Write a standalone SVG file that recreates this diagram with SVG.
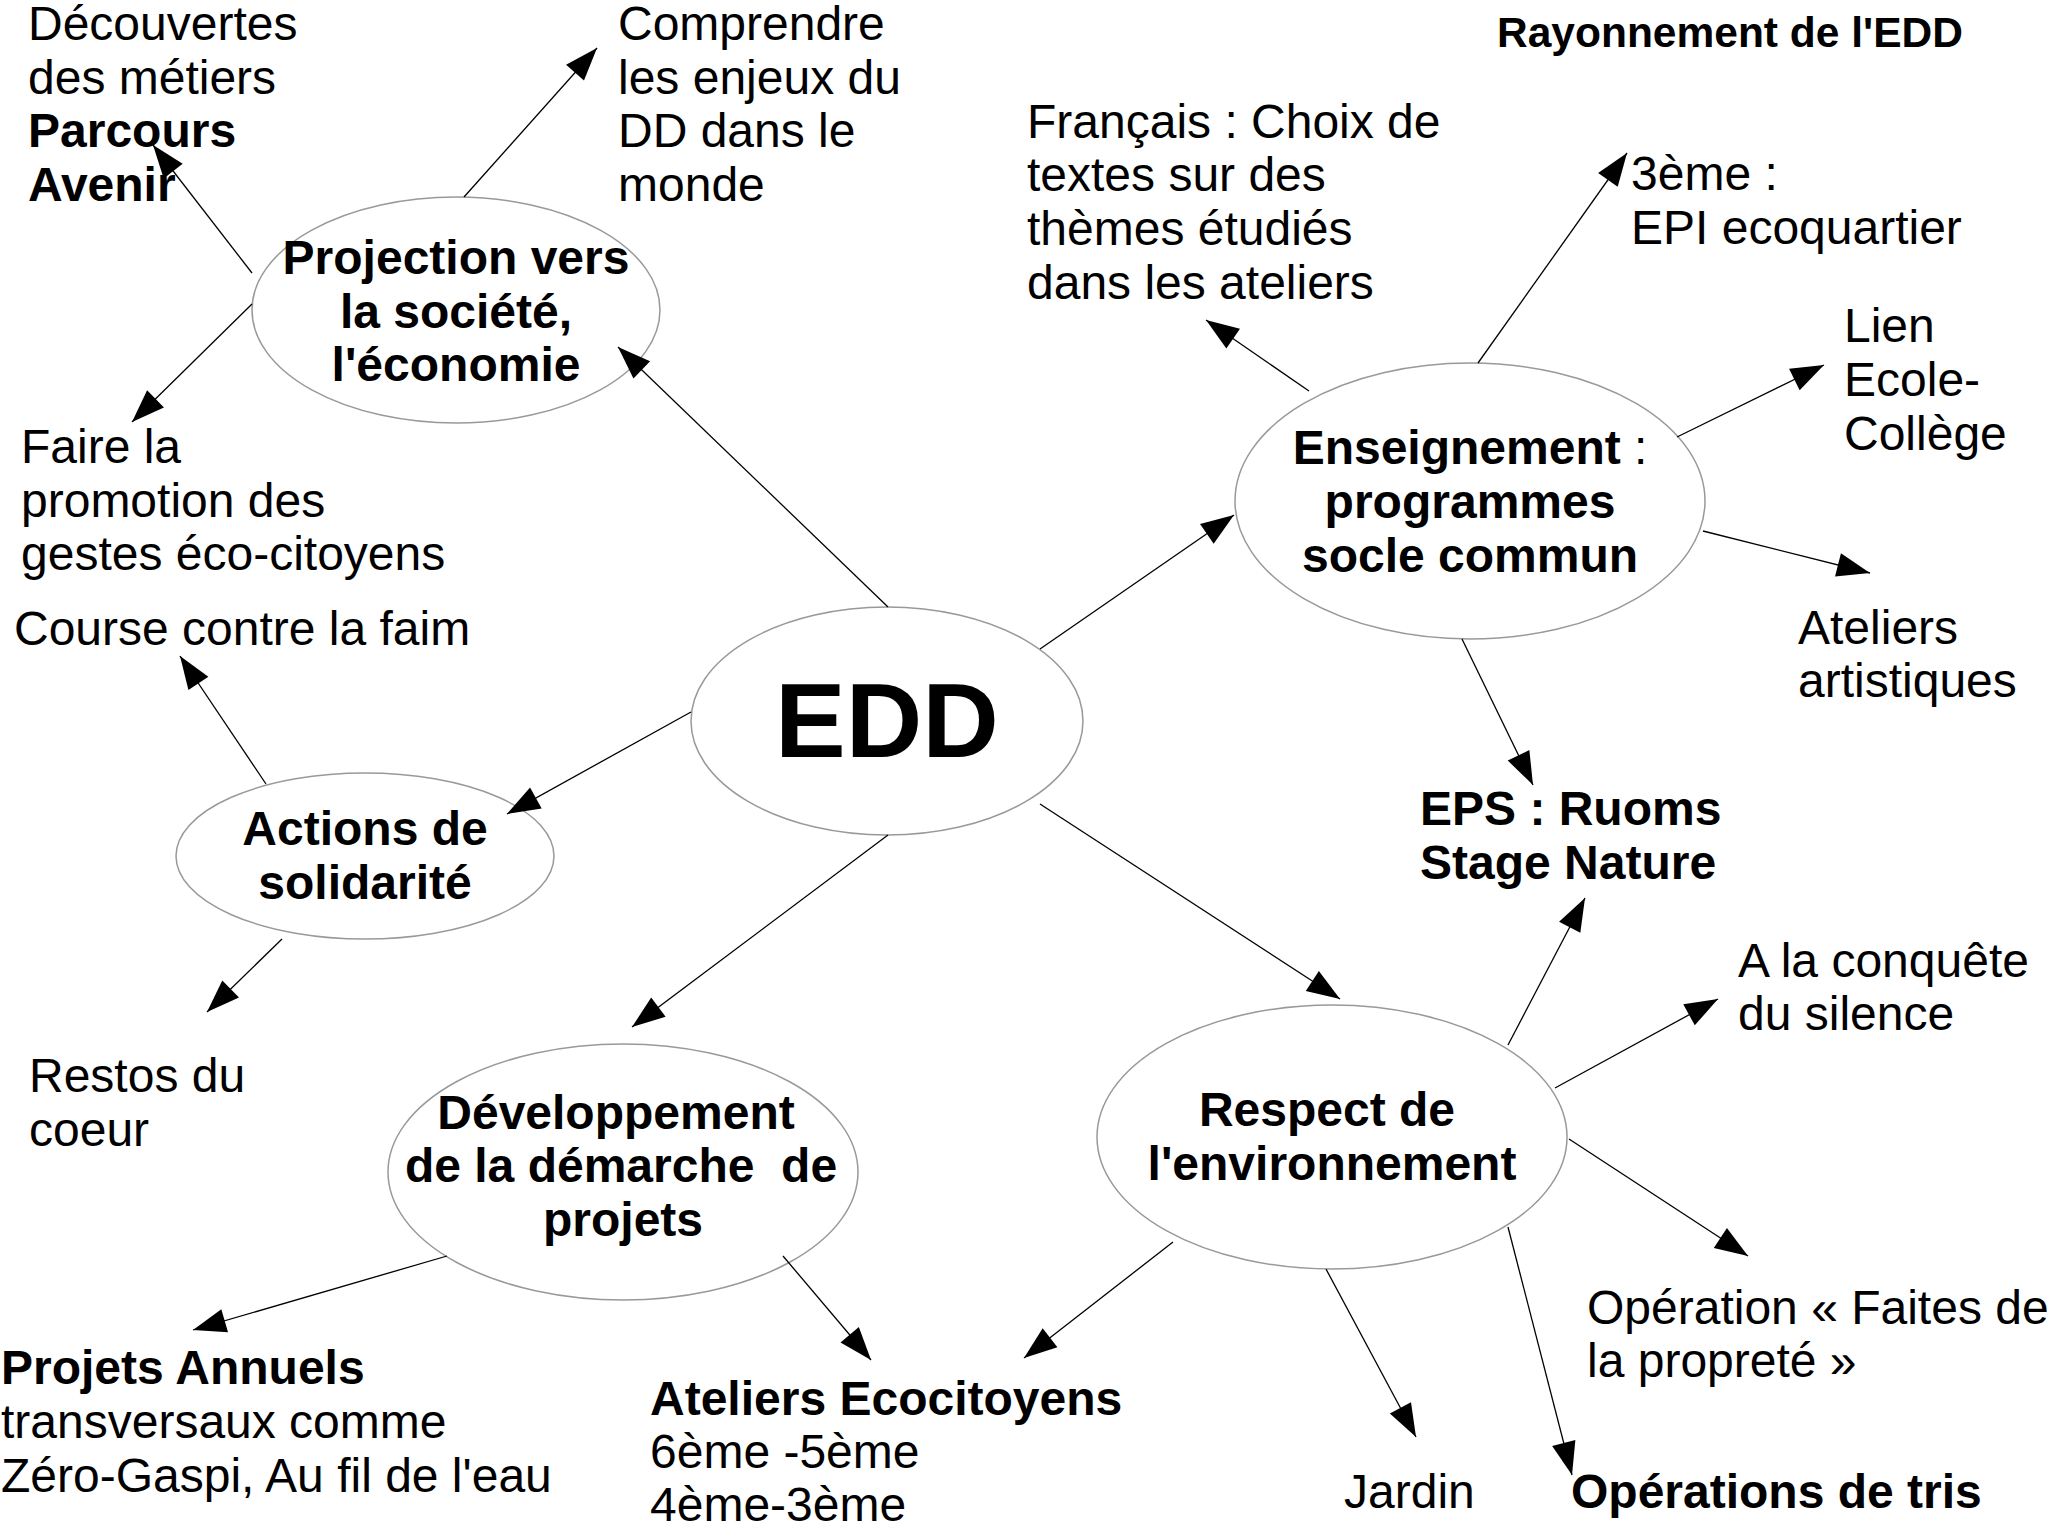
<svg xmlns="http://www.w3.org/2000/svg" width="2056" height="1526" viewBox="0 0 2056 1526">
<defs>
<marker id="arr" markerUnits="userSpaceOnUse" markerWidth="34" markerHeight="24" refX="33" refY="12" orient="auto" overflow="visible">
<path d="M0,0 L33,12 L0,24 Z" fill="#000"/>
</marker>
</defs>
<style>
.bg{fill:#fff}
.el{fill:none;stroke:#999;stroke-width:1.5}
.t{font-family:"Liberation Sans",Arial,sans-serif;font-size:48px;fill:#000}
.b{font-weight:bold}
.c{text-anchor:middle}
.edd{font-family:"Liberation Sans",Arial,sans-serif;font-size:106px;font-weight:bold;text-anchor:middle}
.ttl{font-family:"Liberation Sans",Arial,sans-serif;font-size:42.5px;font-weight:bold}
.ln{stroke:#000;stroke-width:1.3;fill:none;marker-end:url(#arr)}
</style>
<rect class="bg" x="0" y="0" width="2056" height="1526"/>

<g id="title"><text class="ttl" x="1497" y="47">Rayonnement de l'EDD</text></g>

<g id="edd">
<ellipse class="el" cx="887" cy="721" rx="196" ry="114"/>
<text class="edd" x="887" y="757">EDD</text>
</g>

<g id="projection">
<ellipse class="el" cx="456" cy="310" rx="204" ry="113"/>
<text class="t b c"><tspan x="456" y="274">Projection vers</tspan><tspan x="456" y="328">la société,</tspan><tspan x="456" y="381">l'économie</tspan></text>
</g>

<g id="enseignement">
<ellipse class="el" cx="1470" cy="501" rx="235" ry="138"/>
<text class="t c"><tspan x="1470" y="464"><tspan class="b">Enseignement</tspan> :</tspan><tspan class="b" x="1470" y="518">programmes</tspan><tspan class="b" x="1470" y="572">socle commun</tspan></text>
</g>

<g id="actions">
<ellipse class="el" cx="365" cy="856" rx="189" ry="83"/>
<text class="t b c"><tspan x="365" y="845">Actions de</tspan><tspan x="365" y="899">solidarité</tspan></text>
</g>

<g id="developpement">
<ellipse class="el" cx="623" cy="1172" rx="235" ry="128"/>
<text class="t b c" xml:space="preserve"><tspan x="616" y="1129">Développement</tspan><tspan x="621" y="1182">de la démarche  de</tspan><tspan x="623" y="1236">projets</tspan></text>
</g>

<g id="respect">
<ellipse class="el" cx="1332" cy="1137" rx="235" ry="132"/>
<text class="t b c"><tspan x="1327" y="1126">Respect de</tspan><tspan x="1332" y="1180">l'environnement</tspan></text>
</g>

<g id="decouvertes">
<text class="t"><tspan x="28" y="40">Découvertes</tspan><tspan x="28" y="94">des métiers</tspan><tspan class="b" x="28" y="147">Parcours</tspan><tspan class="b" x="28" y="201">Avenir</tspan></text>
</g>

<g id="comprendre">
<text class="t"><tspan x="618" y="40">Comprendre</tspan><tspan x="618" y="94">les enjeux du</tspan><tspan x="618" y="147">DD dans le</tspan><tspan x="618" y="201">monde</tspan></text>
</g>

<g id="faire">
<text class="t"><tspan x="21" y="463">Faire la</tspan><tspan x="21" y="517">promotion des</tspan><tspan x="21" y="570">gestes éco-citoyens</tspan></text>
</g>

<g id="course"><text class="t" x="14" y="645">Course contre la faim</text></g>

<g id="restos">
<text class="t"><tspan x="29" y="1092">Restos du</tspan><tspan x="29" y="1146">coeur</tspan></text>
</g>

<g id="francais">
<text class="t"><tspan x="1027" y="138">Français : Choix de</tspan><tspan x="1027" y="191">textes sur des</tspan><tspan x="1027" y="245">thèmes étudiés</tspan><tspan x="1027" y="299">dans les ateliers</tspan></text>
</g>

<g id="troisieme">
<text class="t"><tspan x="1631" y="190">3ème :</tspan><tspan x="1631" y="244">EPI ecoquartier</tspan></text>
</g>

<g id="lien">
<text class="t"><tspan x="1844" y="342">Lien</tspan><tspan x="1844" y="396">Ecole-</tspan><tspan x="1844" y="450">Collège</tspan></text>
</g>

<g id="artistiques">
<text class="t"><tspan x="1798" y="644">Ateliers</tspan><tspan x="1798" y="697">artistiques</tspan></text>
</g>

<g id="eps">
<text class="t b"><tspan x="1420" y="825">EPS : Ruoms</tspan><tspan x="1420" y="879">Stage Nature</tspan></text>
</g>

<g id="conquete">
<text class="t"><tspan x="1738" y="977">A la conquête</tspan><tspan x="1738" y="1030">du silence</tspan></text>
</g>

<g id="operation">
<text class="t"><tspan x="1587" y="1324">Opération « Faites de</tspan><tspan x="1587" y="1377">la propreté »</tspan></text>
</g>

<g id="projets">
<text class="t"><tspan class="b" x="1" y="1384">Projets Annuels</tspan><tspan x="1" y="1438">transversaux comme</tspan><tspan x="1" y="1492">Zéro-Gaspi, Au fil de l'eau</tspan></text>
</g>

<g id="ateliers-eco">
<text class="t"><tspan class="b" x="650" y="1415">Ateliers Ecocitoyens</tspan><tspan x="650" y="1468">6ème -5ème</tspan><tspan x="650" y="1521">4ème-3ème</tspan></text>
</g>

<g id="jardin"><text class="t" x="1344" y="1508">Jardin</text></g>

<g id="tris"><text class="t b" x="1571" y="1508">Opérations de tris</text></g>

<g id="connectors">
<line class="ln" x1="252" y1="273" x2="153" y2="145"/>
<line class="ln" x1="464" y1="197" x2="597" y2="48"/>
<line class="ln" x1="252" y1="304" x2="132" y2="422"/>
<line class="ln" x1="888" y1="607" x2="618" y2="347"/>
<line class="ln" x1="1040" y1="649" x2="1234" y2="515"/>
<line class="ln" x1="1309" y1="391" x2="1206" y2="320"/>
<line class="ln" x1="1478" y1="363" x2="1627" y2="153"/>
<line class="ln" x1="1677" y1="437" x2="1824" y2="365"/>
<line class="ln" x1="1703" y1="531" x2="1870" y2="573"/>
<line class="ln" x1="1462" y1="639" x2="1533" y2="785"/>
<line class="ln" x1="691" y1="712" x2="507" y2="814"/>
<line class="ln" x1="266" y1="784" x2="180" y2="656"/>
<line class="ln" x1="282" y1="939" x2="207" y2="1012"/>
<line class="ln" x1="888" y1="835" x2="632" y2="1027"/>
<line class="ln" x1="1040" y1="804" x2="1340" y2="999"/>
<line class="ln" x1="1508" y1="1045" x2="1585" y2="898"/>
<line class="ln" x1="1555" y1="1088" x2="1718" y2="999"/>
<line class="ln" x1="1569" y1="1139" x2="1748" y2="1256"/>
<line class="ln" x1="1508" y1="1227" x2="1572" y2="1475"/>
<line class="ln" x1="1326" y1="1269" x2="1416" y2="1437"/>
<line class="ln" x1="1173" y1="1242" x2="1024" y2="1358"/>
<line class="ln" x1="783" y1="1256" x2="871" y2="1360"/>
<line class="ln" x1="447" y1="1256" x2="193" y2="1330"/>
</g>
</svg>
